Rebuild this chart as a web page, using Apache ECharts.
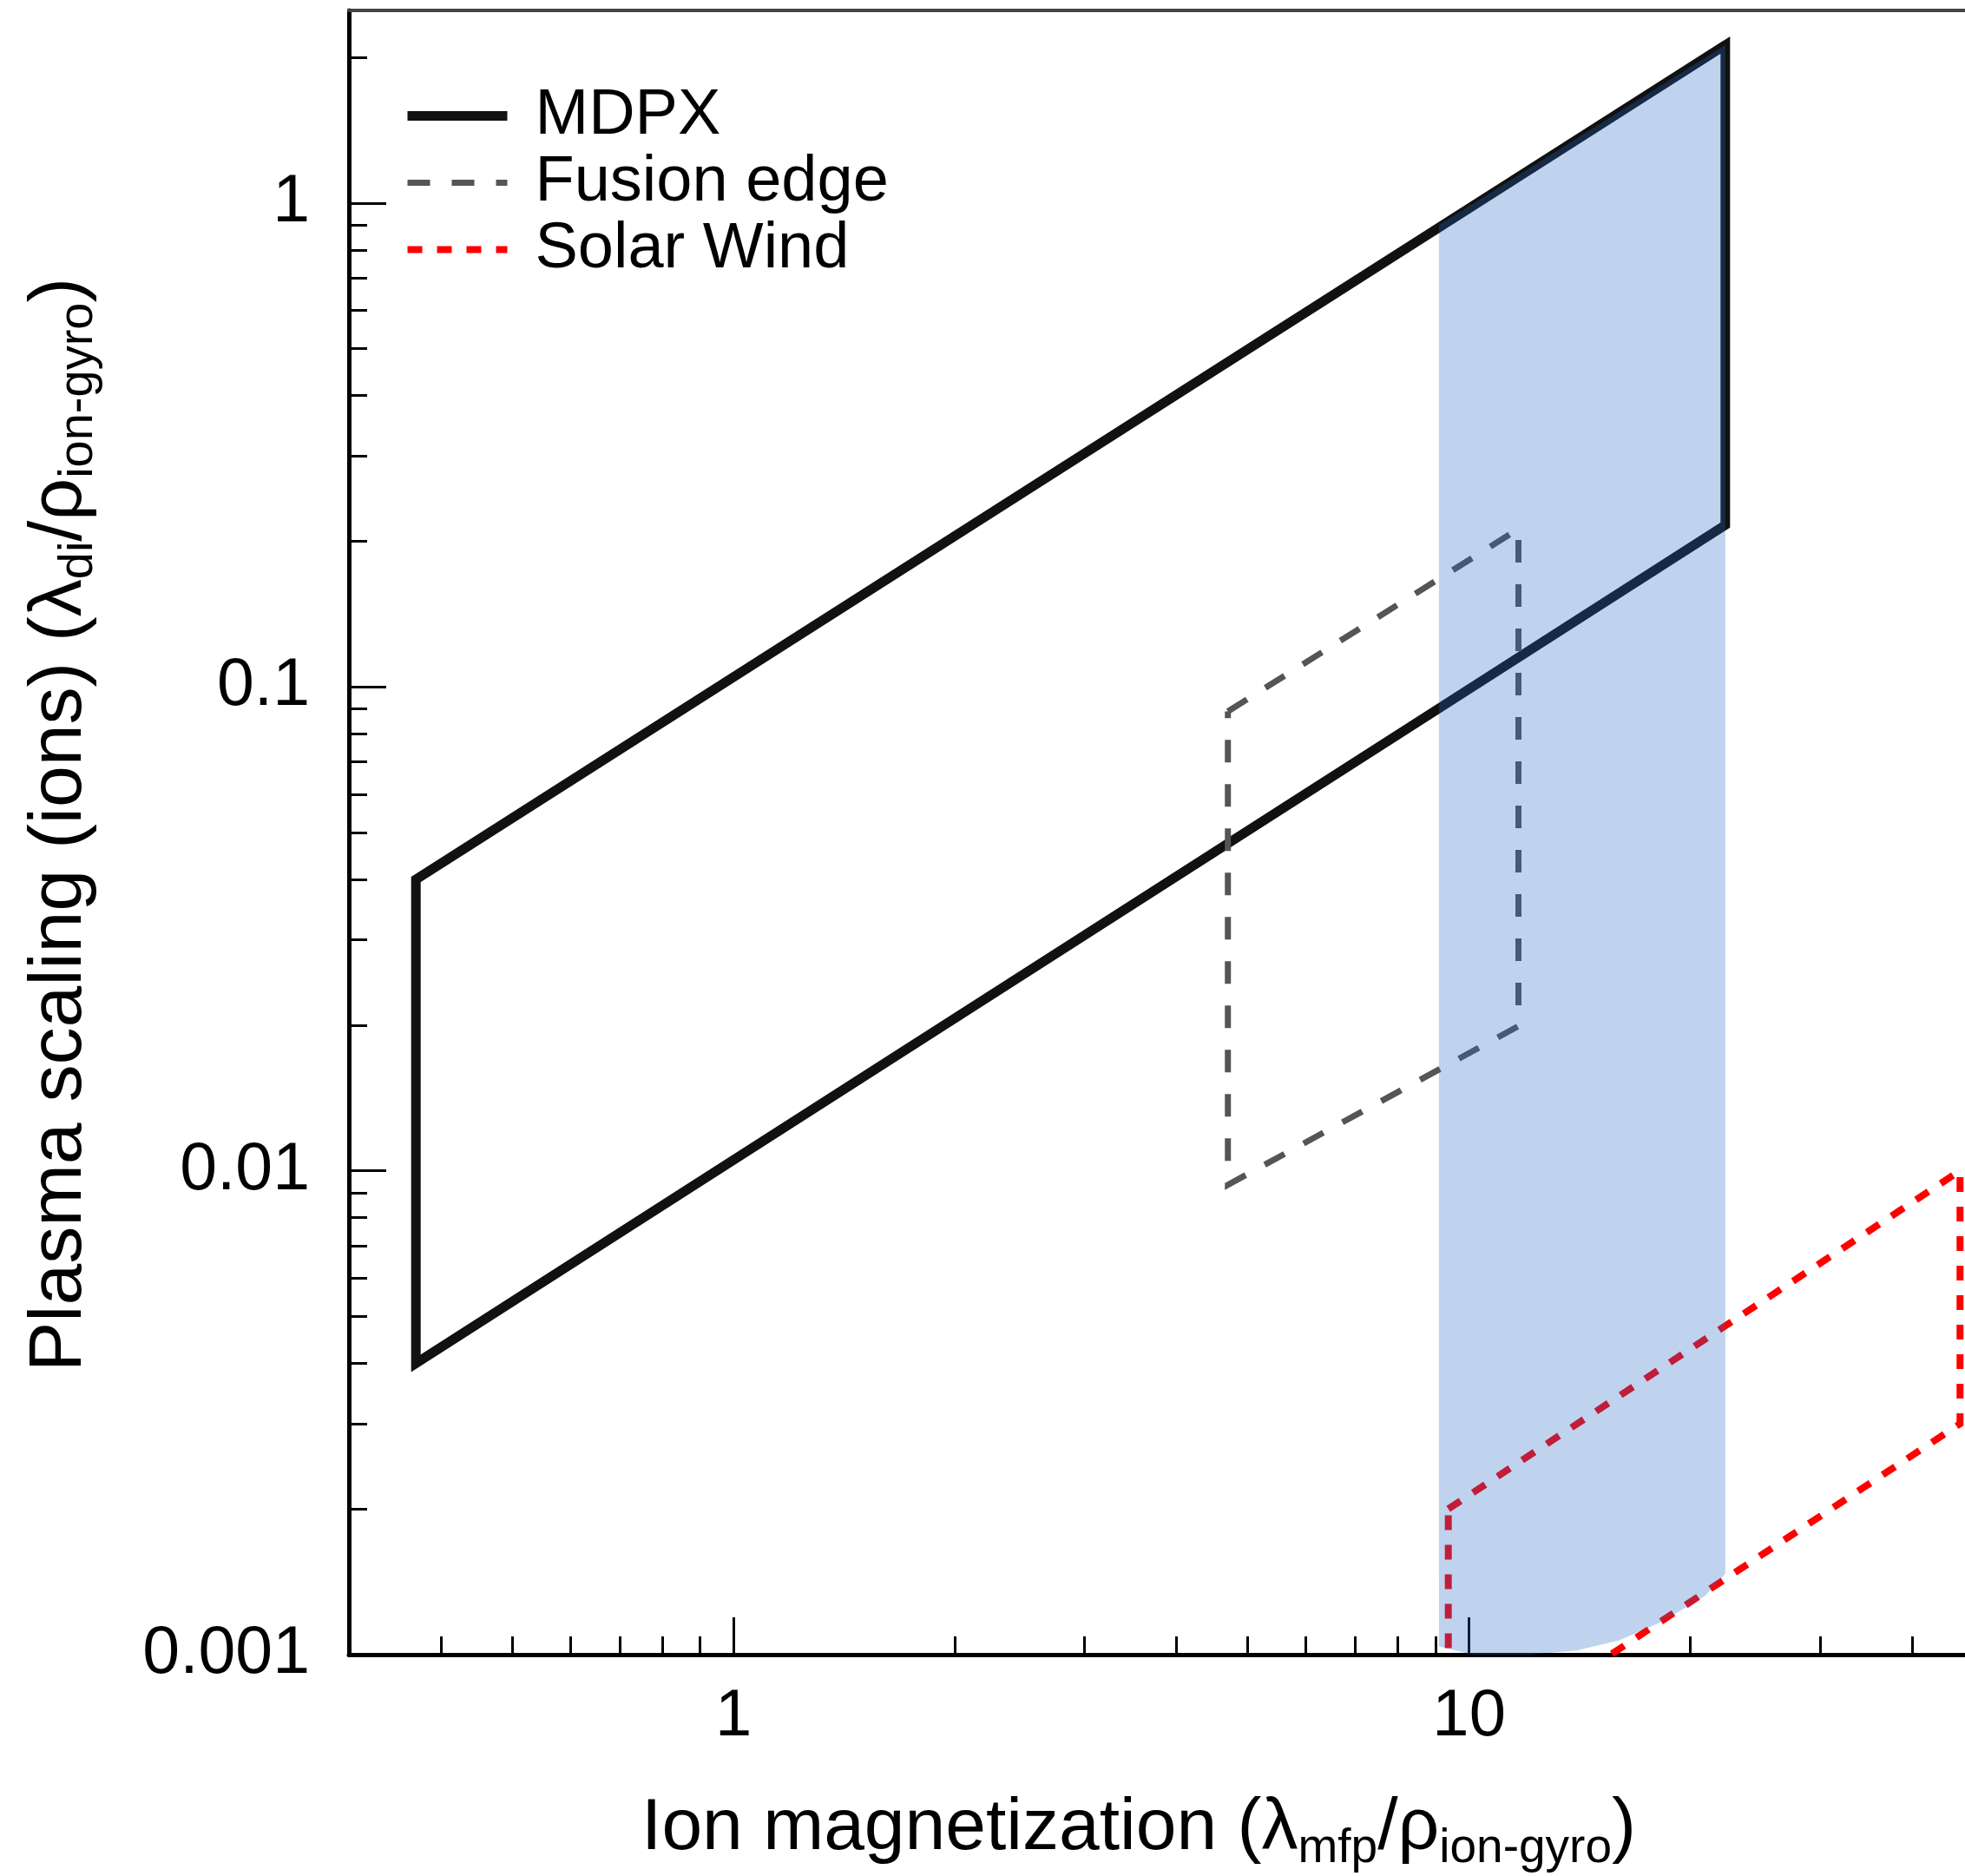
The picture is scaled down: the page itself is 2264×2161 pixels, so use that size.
<!DOCTYPE html>
<html>
<head>
<meta charset="utf-8">
<script src="https://cdn.jsdelivr.net/npm/echarts@6/dist/echarts.min.js"></script>
<style>
html,body{margin:0;padding:0;background:#fff;}
#chart{width:2264px;height:2161px;}
</style>
</head>
<body>
<div id="chart"></div>
<script>
// ---- axis ranges and ticks ----
const xMin = 0.3, xMax = 50;
const yMin = 0.001, yMax = 2.5;
const xMajorTicks = [1, 10];
const xTickLabels = ['1', '10'];
const xMinorTicks = [0.4, 0.5, 0.6, 0.7, 0.8, 0.9, 2, 3, 4, 5, 6, 7, 8, 9, 20, 30, 40];
const yMajorTicks = [0.001, 0.01, 0.1, 1];
const yTickLabels = ['0.001', '0.01', '0.1', '1'];
const yMinorTicks = [0.002, 0.003, 0.004, 0.005, 0.006, 0.007, 0.008, 0.009,
                     0.02, 0.03, 0.04, 0.05, 0.06, 0.07, 0.08, 0.09,
                     0.2, 0.3, 0.4, 0.5, 0.6, 0.7, 0.8, 0.9, 2];

// ---- series (corner values) ----
const seriesNames = ['MDPX', 'Fusion edge', 'Solar Wind'];
const mdpxX = [0.37, 22.3, 22.3, 0.37, 0.37, 22.3];
const mdpxY = [0.04, 2.12, 0.216, 0.004, 0.04, 2.12];
const fusionX = [4.7, 11.67, 11.67, 4.7, 4.7];
const fusionY = [0.089, 0.212, 0.0199, 0.00935, 0.089];
const solarX = [9.37, 46.5, 46.5, 9.37, 9.37];
const solarY = [0.002, 0.01, 0.003, 0.0006, 0.002];
// shaded band (outline)
const shadeX = [9.1, 22.3, 22.3, 20.9, 18.3, 16.0, 14.0, 12.1, 10.1, 9.1];
const shadeY = [0.9, 2.12, 0.00147, 0.00132, 0.00117, 0.00107, 0.00102, 0.001, 0.001, 0.00104];

const FONT = '"Liberation Sans", Arial, Helvetica, sans-serif';
const zip = (xs, ys) => xs.map((x, i) => [x, ys[i]]);
const labeler = (vals, labels) => (v) => {
  for (let i = 0; i < vals.length; i++) {
    if (Math.abs(Math.log10(v) - Math.log10(vals[i])) < 1e-6) return labels[i];
  }
  return '';
};

const styles = {
  MDPX: {color: '#111111', width: 11, type: 'solid'},
  'Fusion edge': {color: '#555555', width: 7, type: [26, 25]},
  'Solar Wind': {color: '#ff0000', width: 8, type: [17, 17]}
};

const chart = echarts.init(document.getElementById('chart'), null, {renderer: 'canvas'});

const baseX = {type: 'log', logBase: 10, min: xMin, max: xMax, splitLine: {show: false},
  minorTick: {show: false}, minorSplitLine: {show: false}};
const baseY = {type: 'log', logBase: 10, min: yMin, max: yMax, splitLine: {show: false},
  minorTick: {show: false}, minorSplitLine: {show: false}};

function lineSeries(name, xs, ys) {
  const s = styles[name];
  return {
    name: name, type: 'line', xAxisIndex: 0, yAxisIndex: 0,
    data: zip(xs, ys), symbol: 'none', clip: true, silent: true, z: 3,
    lineStyle: {color: s.color, width: s.width, type: s.type, join: 'miter', cap: 'butt'},
    itemStyle: {color: s.color}
  };
}

const option = {
  backgroundColor: '#ffffff',
  animation: false,
  grid: {left: 402, top: 12, width: 1883, height: 1894, containLabel: false, outerBoundsMode: 'none'},
  legend: {
    show: true, orient: 'vertical', left: 464, top: 95, padding: 0, itemGap: 0,
    itemWidth: 115, itemHeight: 20, selectedMode: false,
    itemStyle: {opacity: 0},
    textStyle: {fontSize: 74, fontFamily: FONT, color: '#000', lineHeight: 77, padding: [0, 0, 0, 27]},
    data: seriesNames.map(n => ({name: n, lineStyle: {width: styles[n].width, color: styles[n].color, type: styles[n].type}}))
  },
  xAxis: [
    Object.assign({}, baseX, {
      position: 'bottom',
      axisLine: {show: true, onZero: false, lineStyle: {color: '#000', width: 5}},
      axisTick: {show: true, inside: true, length: 43, customValues: xMajorTicks, lineStyle: {color: '#000', width: 3}},
      axisLabel: {show: true, customValues: xMajorTicks, formatter: labeler(xMajorTicks, xTickLabels),
        margin: 34, color: '#000', fontSize: 76, fontFamily: FONT}
    }),
    Object.assign({}, baseX, {
      position: 'bottom',
      axisLine: {show: false, onZero: false},
      axisTick: {show: true, inside: true, length: 21, customValues: xMinorTicks, lineStyle: {color: '#000', width: 3}},
      axisLabel: {show: false}
    }),
    Object.assign({}, baseX, {
      position: 'top',
      axisLine: {show: true, onZero: false, lineStyle: {color: '#444', width: 4}},
      axisTick: {show: false},
      axisLabel: {show: false}
    })
  ],
  yAxis: [
    Object.assign({}, baseY, {
      position: 'left',
      axisLine: {show: true, onZero: false, lineStyle: {color: '#000', width: 5}},
      axisTick: {show: true, inside: true, length: 43, customValues: yMajorTicks, lineStyle: {color: '#000', width: 3}},
      axisLabel: {show: true, customValues: yMajorTicks, formatter: labeler(yMajorTicks, yTickLabels),
        margin: 45, color: '#000', fontSize: 77, fontFamily: FONT}
    }),
    Object.assign({}, baseY, {
      position: 'left',
      axisLine: {show: false, onZero: false},
      axisTick: {show: true, inside: true, length: 21, customValues: yMinorTicks, lineStyle: {color: '#000', width: 3}},
      axisLabel: {show: false}
    })
  ],
  series: [
    lineSeries(seriesNames[0], mdpxX, mdpxY),
    lineSeries(seriesNames[1], fusionX, fusionY),
    lineSeries(seriesNames[2], solarX, solarY),
    {
      name: 'shade', type: 'custom', xAxisIndex: 0, yAxisIndex: 0, clip: true, silent: true, z: 5,
      data: [[shadeX[0], shadeY[0]]],
      renderItem: function (params, api) {
        const pts = shadeX.map((x, i) => api.coord([x, shadeY[i]]));
        return {type: 'polygon', shape: {points: pts}, style: {fill: 'rgba(34,103,200,0.29)', stroke: null}};
      }
    }
  ],
  graphic: [
    {
      type: 'text', x: 1312, y: 2107, silent: true,
      style: {
        text: '{m|Ion magnetization (λ}{s|mfp}{m|/ρ}{s|ion-gyro}{m|)}',
        align: 'center', verticalAlign: 'middle',
        rich: {
          m: {fontSize: 84, fontFamily: FONT, lineHeight: 100, verticalAlign: 'middle', fill: '#000'},
          s: {fontSize: 55, fontFamily: FONT, lineHeight: 60, verticalAlign: 'bottom', fill: '#000'}
        }
      }
    },
    {
      type: 'text', x: 69, y: 950, rotation: Math.PI / 2, silent: true,
      style: {
        text: '{m|Plasma scaling (ions) (λ}{s|di}{m|/ρ}{s|ion-gyro}{m|)}',
        align: 'center', verticalAlign: 'middle',
        rich: {
          m: {fontSize: 86, fontFamily: FONT, lineHeight: 100, verticalAlign: 'middle', fill: '#000'},
          s: {fontSize: 56, fontFamily: FONT, lineHeight: 60, verticalAlign: 'bottom', fill: '#000'}
        }
      }
    }
  ]
};
chart.setOption(option);
</script>
</body>
</html>
